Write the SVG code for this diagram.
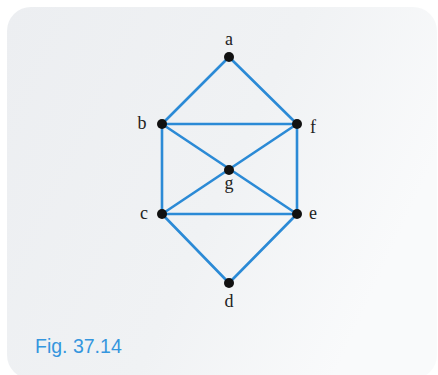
<svg xmlns="http://www.w3.org/2000/svg" width="438" height="375" viewBox="0 0 438 375">
<defs>
<linearGradient id="bg" x1="0" y1="0" x2="1" y2="0.4">
<stop offset="0" stop-color="#eceef1"/>
<stop offset="0.6" stop-color="#f0f2f4"/>
<stop offset="1" stop-color="#f9fafb"/>
</linearGradient>
</defs>
<style>
.e{stroke:#2b8ad6;stroke-width:2.6;fill:none;stroke-linecap:round}
.n{fill:#111}
.l{font-family:"Liberation Serif",serif;font-size:18px;fill:#222}
.fig{font-family:"Liberation Sans",Arial,sans-serif;font-size:19.5px;fill:#3596de}
</style>
<rect width="438" height="375" fill="#ffffff"/>
<rect x="7" y="7" width="430" height="372" rx="24" fill="url(#bg)"/>
<g id="edges">
<line class="e" x1="229" y1="57" x2="162" y2="124"/>
<line class="e" x1="229" y1="57" x2="297" y2="124"/>
<line class="e" x1="162" y1="124" x2="297" y2="124"/>
<line class="e" x1="162" y1="124" x2="162" y2="214"/>
<line class="e" x1="297" y1="124" x2="297" y2="214"/>
<line class="e" x1="162" y1="124" x2="297" y2="214"/>
<line class="e" x1="297" y1="124" x2="162" y2="214"/>
<line class="e" x1="162" y1="214" x2="297" y2="214"/>
<line class="e" x1="162" y1="214" x2="229" y2="283"/>
<line class="e" x1="297" y1="214" x2="229" y2="283"/>
</g>
<g id="a"><circle class="n" cx="229" cy="57" r="5"/><text class="l" x="229" y="45" text-anchor="middle">a</text></g>
<g id="b"><circle class="n" cx="162" cy="124" r="5"/><text class="l" x="142" y="129" text-anchor="middle">b</text></g>
<g id="f"><circle class="n" cx="297" cy="124" r="5"/><text class="l" x="313" y="133" text-anchor="middle">f</text></g>
<g id="g"><circle class="n" cx="229" cy="170" r="5"/><text class="l" x="229" y="189" text-anchor="middle">g</text></g>
<g id="c"><circle class="n" cx="162" cy="214" r="5"/><text class="l" x="144" y="219" text-anchor="middle">c</text></g>
<g id="e"><circle class="n" cx="297" cy="214" r="5"/><text class="l" x="313" y="219" text-anchor="middle">e</text></g>
<g id="d"><circle class="n" cx="229" cy="283" r="5"/><text class="l" x="229" y="307" text-anchor="middle">d</text></g>
<text class="fig" x="35" y="353">Fig. 37.14</text>
</svg>
